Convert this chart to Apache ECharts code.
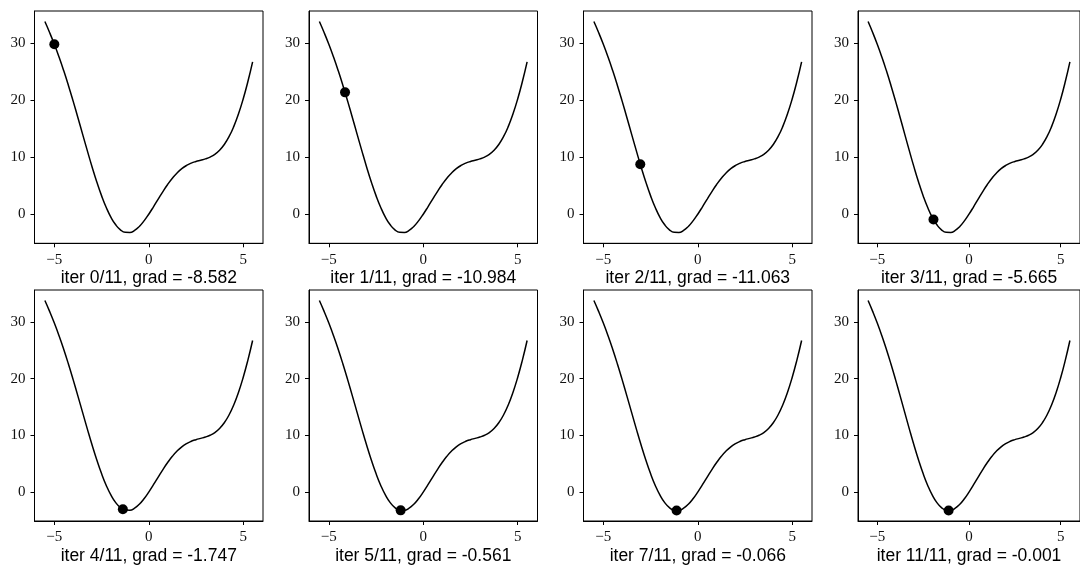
<!DOCTYPE html>
<html><head><meta charset="utf-8">
<script src="https://cdn.jsdelivr.net/npm/echarts@6/dist/echarts.min.js"></script>
<style>html,body{margin:0;padding:0;background:#fff;overflow:hidden}#c{width:1080px;height:566px}</style>
</head><body><div id="c"></div>
<script>
const curveX = [-5.5,-5.25,-5,-4.75,-4.5,-4.25,-4,-3.75,-3.5,-3.25,-3,-2.75,-2.5,-2.25,-2,-1.75,-1.5,-1.25,-1,-0.75,-0.5,-0.25,0,0.25,0.5,0.75,1,1.25,1.5,1.75,2,2.25,2.5,2.75,3,3.25,3.5,3.75,4,4.25,4.5,4.75,5,5.25,5.5];
const curveY = [33.778,31.857,29.795,27.559,25.138,22.538,19.784,16.920,14.004,11.104,8.294,5.654,3.258,1.172,-0.547,-1.857,-2.738,-3.182,-3.207,-2.846,-2.147,-1.175,0,1.300,2.647,3.971,5.207,6.307,7.238,7.982,8.547,8.953,9.242,9.471,9.706,10.022,10.496,11.205,12.216,13.588,15.362,17.566,20.205,23.268,26.722];
// Iterations shown in each panel
const iterNames = ["iter 0/11, grad = -8.582","iter 1/11, grad = -10.984","iter 2/11, grad = -11.063","iter 3/11, grad = -5.665","iter 4/11, grad = -1.747","iter 5/11, grad = -0.561","iter 7/11, grad = -0.066","iter 11/11, grad = -0.001"];
const iterX = [-5.0,-4.1418,-3.0434,-1.9371,-1.3706,-1.1959,-1.1207,-1.1107];
const iterY = [29.795,21.363,8.772,-0.916,-3.022,-3.2225,-3.246,-3.2464];
const xTickValues = [-5,0,5];
const yTickValues = [0,10,20,30];

const colLefts = [34.5, 309, 583.5, 858];
const rowTops = [11, 290];
const gw = 228.5, gh = 232.3;
const fmt = v => (v < 0 ? '\u2212' + Math.abs(v) : String(v));
const tickFont = {fontFamily:'"Liberation Serif","DejaVu Serif",serif', fontSize:15, color:'#111'};

const curve = curveX.map((x,i)=>[x,curveY[i]]);
const grids=[], xAxes=[], yAxes=[], series=[];
iterNames.forEach((name,i)=>{
  const r = Math.floor(i/4), c = i%4;
  grids.push({left:colLefts[c], top:rowTops[r], width:gw, height:gh, show:true, borderColor:'#000', borderWidth:1, backgroundColor:'transparent'});
  xAxes.push({type:'value', gridIndex:i, min:-6.05, max:6.05, position:'bottom',
    name:name, nameLocation:'middle', nameGap:26,
    nameTextStyle:{fontFamily:'"Liberation Sans",Arial,sans-serif', fontSize:17.5, color:'#000'},
    axisLine:{show:true, onZero:false, lineStyle:{color:'#000', width:1}}, splitLine:{show:false},
    axisTick:{show:true, inside:false, length:4, customValues:xTickValues, lineStyle:{color:'#000', width:1}},
    axisLabel:Object.assign({customValues:xTickValues, formatter:fmt, margin:9}, tickFont)});
  yAxes.push({type:'value', gridIndex:i, min:-5.1, max:35.63, position:'left',
    axisLine:{show:true, onZero:false, lineStyle:{color:'#000', width:1}}, splitLine:{show:false},
    axisTick:{show:true, inside:false, length:4, customValues:yTickValues, lineStyle:{color:'#000', width:1}},
    axisLabel:Object.assign({customValues:yTickValues, formatter:fmt, margin:9}, tickFont)});
  series.push({type:'line', xAxisIndex:i, yAxisIndex:i, data:curve, showSymbol:false, smooth:true,
    lineStyle:{color:'#000', width:1.5}, silent:true, animation:false});
  series.push({type:'scatter', xAxisIndex:i, yAxisIndex:i, data:[[iterX[i], iterY[i]]], symbolSize:10,
    itemStyle:{color:'#000', opacity:1}, silent:true, animation:false, z:5});
});
const chart = echarts.init(document.getElementById('c'), null, {renderer:'canvas'});
chart.setOption({animation:false, backgroundColor:'#fff', grid:grids, xAxis:xAxes, yAxis:yAxes, series:series});
</script></body></html>
